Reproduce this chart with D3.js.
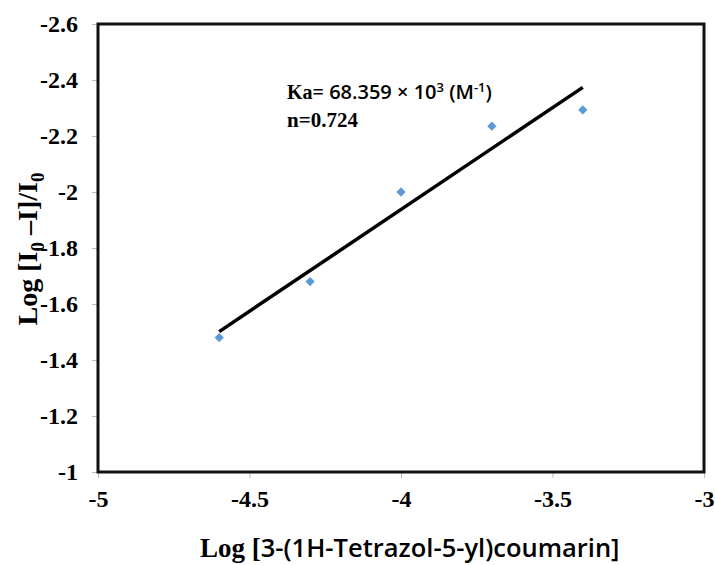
<!DOCTYPE html>
<html>
<head>
<meta charset="utf-8">
<script src="https://cdn.jsdelivr.net/npm/d3@7"></script>
<style>
  body { margin: 0; background: #fff; }
</style>
</head>
<body>
<div id="chart"></div>
<script>
// data
var logConc = [-4.6, -4.3, -4.0, -3.7, -3.4];
var logQuench = [-1.48, -1.68, -2.0, -2.235, -2.293];
var xTicks = [-5, -4.5, -4, -3.5, -3];
var yTicks = [-2.6, -2.4, -2.2, -2, -1.8, -1.6, -1.4, -1.2, -1];

var totalWidth = 715, totalHeight = 565;
var margin = { top: 24, right: 11, bottom: 93, left: 98 };
var width = totalWidth - margin.left - margin.right;
var height = totalHeight - margin.top - margin.bottom;

var svg = d3.select('#chart').append('svg')
    .attr('width', totalWidth)
    .attr('height', totalHeight);

var g = svg.append('g')
    .attr('transform', 'translate(' + margin.left + ',' + margin.top + ')');

var xScale = d3.scaleLinear().domain([-5, -3]).range([0, width]);
// y axis runs reversed: -2.6 at top, -1 at bottom
var yScale = d3.scaleLinear().domain([-1, -2.6]).range([height, 0]);

var serif = '"Liberation Serif", "Times New Roman", serif';
var sans = '"Open Sans", "Noto Sans", sans-serif';

var yAxis = d3.axisLeft(yScale).tickValues(yTicks).tickSize(6).tickPadding(14)
    .tickFormat(function(d) { return String(+d.toFixed(1)); });
var yAxisGroup = g.append('g').call(yAxis);
yAxisGroup.select('.domain').remove();
yAxisGroup.selectAll('line').attr('stroke', '#bbb');
yAxisGroup.selectAll('text').attr('fill', '#000').attr('font-size', 24)
    .attr('font-weight', 'bold').attr('font-family', serif);

var xAxis = d3.axisBottom(xScale).tickValues(xTicks).tickSize(6).tickPadding(12)
    .tickFormat(function(d) { return String(d); });
var xAxisGroup = g.append('g').attr('transform', 'translate(0,' + height + ')').call(xAxis);
xAxisGroup.select('.domain').remove();
xAxisGroup.selectAll('line').attr('stroke', '#bbb');
xAxisGroup.selectAll('text').attr('fill', '#000').attr('font-size', 24)
    .attr('font-weight', 'bold').attr('font-family', serif);

// frame
g.append('rect')
    .attr('x', 0).attr('y', 0)
    .attr('width', width).attr('height', height)
    .attr('fill', 'none').attr('stroke', '#111').attr('stroke-width', 3);

// linear fit
var n = logConc.length;
var mx = d3.mean(logConc), my = d3.mean(logQuench);
var sxy = 0, sxx = 0;
for (var i = 0; i < n; i++) {
    sxy += (logConc[i] - mx) * (logQuench[i] - my);
    sxx += (logConc[i] - mx) * (logConc[i] - mx);
}
var slope = sxy / sxx, intercept = my - slope * mx;
var fitX = d3.extent(logConc);

g.append('line')
    .attr('x1', xScale(fitX[0])).attr('y1', yScale(slope * fitX[0] + intercept))
    .attr('x2', xScale(fitX[1])).attr('y2', yScale(slope * fitX[1] + intercept))
    .attr('stroke', '#000').attr('stroke-width', 3.5);

var diamond = d3.symbol().type(d3.symbolDiamond2).size(55);
g.selectAll('.pt')
    .data(logConc)
    .enter()
    .append('path')
    .attr('class', 'pt')
    .attr('d', diamond)
    .attr('transform', function(d, i) { return 'translate(' + xScale(d) + ',' + yScale(logQuench[i]) + ')'; })
    .attr('fill', '#5b9bd5');

// annotation
var ann = svg.append('text').attr('x', 287).attr('y', 99)
    .attr('font-size', 20).attr('font-weight', 'bold').attr('fill', '#000');
ann.append('tspan').attr('font-family', serif).text('Ka=');
ann.append('tspan').attr('font-family', sans).attr('font-weight', 600).text(' 68.359 × 10');
ann.append('tspan').attr('font-family', sans).attr('font-weight', 600).attr('font-size', 13).attr('dy', -7).text('3');
ann.append('tspan').attr('font-family', sans).attr('font-weight', 600).attr('dy', 7).text(' (M');
ann.append('tspan').attr('font-family', sans).attr('font-weight', 600).attr('font-size', 13).attr('dy', -7).text('-1');
ann.append('tspan').attr('font-family', sans).attr('font-weight', 600).attr('dy', 7).text(')');

svg.append('text').attr('x', 287).attr('y', 127)
    .attr('font-size', 21).attr('font-weight', 'bold').attr('font-family', serif)
    .text('n=0.724');

// x label
var xl = svg.append('text').attr('x', 200).attr('y', 557)
    .attr('font-size', 25).attr('font-weight', 'bold');
xl.append('tspan').attr('font-family', serif).attr('font-size', 27).text('Log [');
xl.append('tspan').attr('font-family', sans).attr('font-weight', 600).attr('font-size', 25.5).text('3-(1H-Tetrazol-5-yl)coumarin]');

// y label
var yl = svg.append('text')
    .attr('transform', 'translate(37,249) rotate(-90)')
    .attr('text-anchor', 'middle').attr('font-size', 28).attr('font-weight', 'bold')
    .attr('font-family', serif);
yl.append('tspan').text('Log [I');
yl.append('tspan').attr('font-size', 19).attr('dy', 7).text('0');
yl.append('tspan').attr('dy', -7).text(' \u2013I]/I');
yl.append('tspan').attr('font-size', 19).attr('dy', 7).text('0');
</script>
</body>
</html>
